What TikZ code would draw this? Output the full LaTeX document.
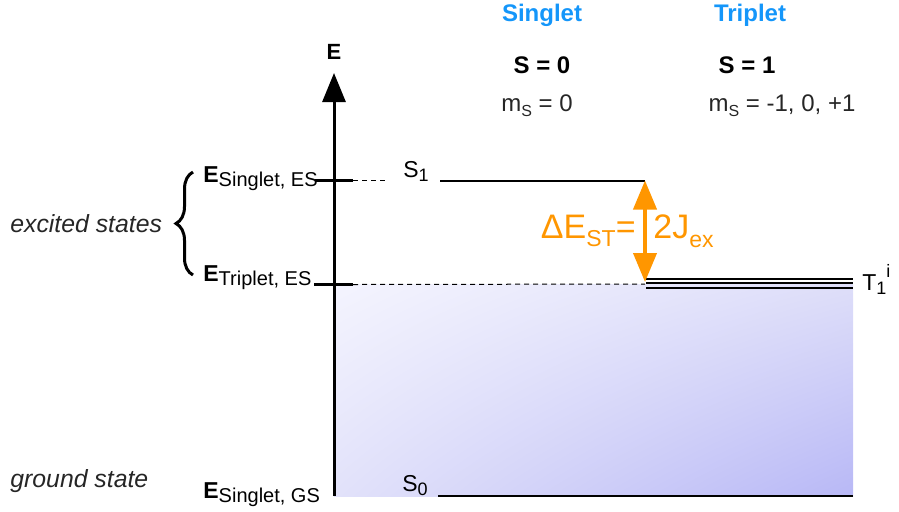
\documentclass[tikz,border=0pt]{standalone}
\usepackage{fontspec}
\setmainfont{Liberation Sans}
\usetikzlibrary{positioning, arrows.meta, decorations.pathreplacing, shadings}

\definecolor{headblue}{RGB}{20,150,250}
\definecolor{gaporange}{RGB}{255,150,0}
\definecolor{bandUL}{RGB}{244,244,254}
\definecolor{bandUR}{RGB}{222,222,249}
\definecolor{bandLL}{RGB}{226,226,250}
\definecolor{bandLR}{RGB}{184,184,246}

% lowered small text (shift, size, text)
\newcommand{\subtxt}[3]{\raisebox{-#1}{\fontsize{#2}{#2}\selectfont #3}}

\begin{document}
\begin{tikzpicture}[
    x=0.5pt, y=-0.5pt,
    txt/.style={inner sep=0pt, anchor=base, font=\fontsize{12}{14}\selectfont},
    head/.style={txt, font=\fontsize{12}{14}\selectfont\bfseries},
    lbl/.style={inner sep=0pt, anchor=base west, font=\fontsize{11.5}{13}\selectfont},
    note/.style={inner sep=0pt, anchor=base west, text=black!85, font=\fontsize{12.4}{15}\selectfont\itshape},
    lvl/.style={line width=1pt},
    axtick/.style={line width=1.5pt},
    guide/.style={line width=0.5pt, dash pattern=on 2.5pt off 2pt}
]

\useasboundingbox (0,0) rectangle (899,511);

% --- band below the triplet ---
\shade[upper left=bandUL, upper right=bandUR, lower left=bandLL, lower right=bandLR]
    (334,284) rectangle (853,496);

% --- energy axis ---
\coordinate (axbot) at (334,496);
\coordinate (axtop) at (334,73);
\draw[line width=1.5pt, -{Triangle[length=14.5pt, width=11.5pt]}] (axbot) -- (axtop);
\node[head, font=\fontsize{11}{13}\selectfont\bfseries] (E) at (334,59) {E};

% --- headers ---
\node[head, text=headblue] (singlet) at (542,21) {Singlet};
\node[head, text=headblue] (triplet) at (750,21) {Triplet};
\node[head] (Szero) at (542,73.5) {S = 0};
\node[head] (Sone) at (747,73.5) {S = 1};
\node[txt, text=black!85] (mszero) at (537,111) {m\subtxt{2.5pt}{8}{S} = 0};
\node[txt, text=black!85] (msone) at (782,111) {m\subtxt{2.5pt}{8}{S} = -1, 0, +1};

% --- singlet excited state ---
\coordinate (sesL) at (315,180.5);
\coordinate (sesR) at (353,180.5);
\coordinate (sesD) at (386,180.5);
\draw[axtick] (sesL) -- (sesR);
\draw[guide] (sesR) -- (sesD);
\coordinate (s1L) at (440,180.5);
\coordinate (s1R) at (645,180.5);
\draw[lvl] (s1L) -- (s1R);
\node[lbl] (S1) at (403,177) {S\subtxt{2pt}{9}{1}};

% --- triplet excited state ---
\coordinate (tesL) at (314,284.5);
\coordinate (tesR) at (353,284.5);
\coordinate (t1L) at (645,284);
\draw[axtick] (tesL) -- (tesR);
\draw[guide] (tesR) -- (t1L);
\foreach \yy in {278.5,282.5,288}
    \draw[lvl] (646,\yy) -- (853,\yy);
\node[lbl] (T1) at (862,290) {T\subtxt{2pt}{9}{1}\raisebox{6.5pt}{\fontsize{9}{9}\selectfont i}};

% --- ground state ---
\coordinate (s0L) at (438,496);
\coordinate (s0R) at (853,496);
\draw[lvl] (s0L) -- (s0R);
\node[lbl] (S0) at (402,491) {S\subtxt{2pt}{9}{0}};

% --- energy labels on the axis ---
\node[lbl] (Esing) at (203,182) {\textbf{E}\subtxt{2pt}{10}{Singlet, ES}};
\node[lbl] (Etrip) at (203,281) {\textbf{E}\subtxt{2pt}{10}{Triplet, ES}};
\node[lbl] (Eground) at (203,498) {\textbf{E}\subtxt{2pt}{10}{Singlet, GS}};

% --- state groups ---
\coordinate (brBot) at (193,275);
\coordinate (brTop) at (193,172);
\draw[line width=1.5pt, decorate, decoration={brace, amplitude=8.5pt}] (brBot) -- (brTop);
\node[note] (excited) at (10,232) {excited states};
\node[note] (ground) at (10,487) {ground state};

% --- singlet-triplet gap ---
\coordinate (gapBot) at (645,282);
\draw[gaporange, line width=2pt,
    {Triangle[length=14.5pt, width=11.5pt]}-{Triangle[length=14.5pt, width=11.5pt]}] (s1R) -- (gapBot);
\node[inner sep=0pt, anchor=base east, text=gaporange, font=\fontsize{17}{20}\selectfont]
    (dEst) at (636,238) {ΔE\subtxt{4pt}{11.5}{ST}=};
\node[inner sep=0pt, anchor=base west, text=gaporange, font=\fontsize{17}{20}\selectfont]
    (Jex) at (653,238) {2J\subtxt{4.5pt}{11.5}{ex}};

\end{tikzpicture}
\end{document}
